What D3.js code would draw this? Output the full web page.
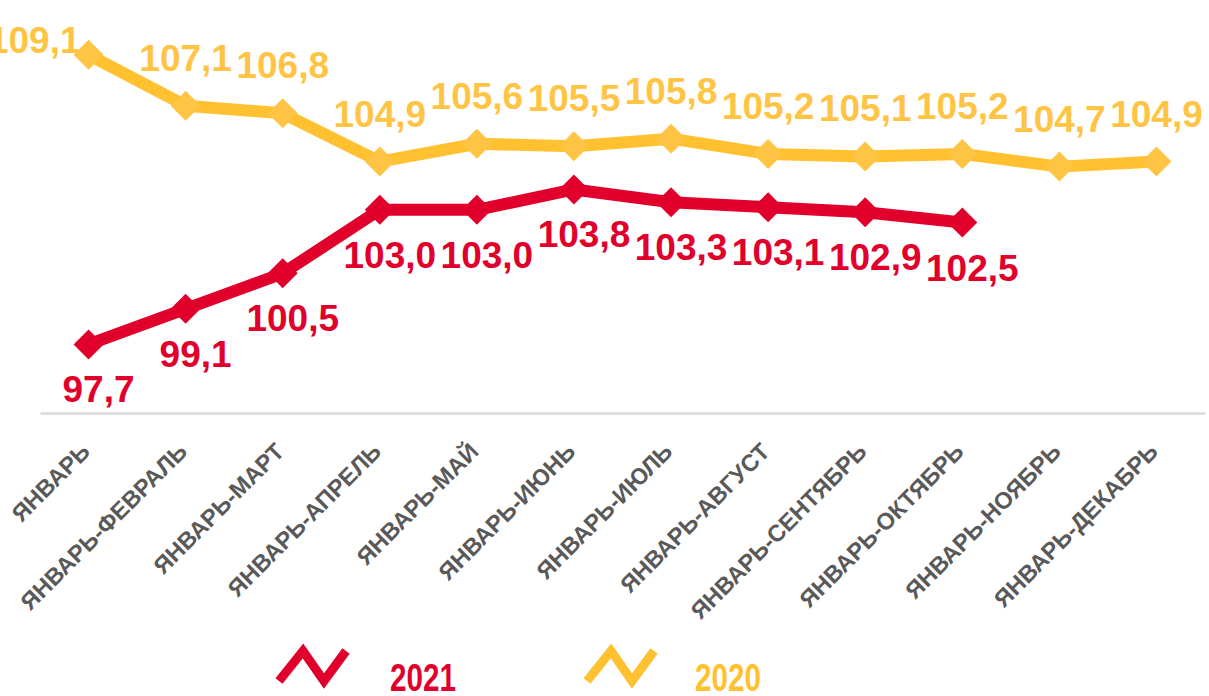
<!DOCTYPE html>
<html lang="ru">
<head>
    <meta charset="UTF-8">
    <title>Январь - месяц, накопительно</title>
    <script src="https://d3js.org/d3.v7.min.js"></script>
    <style>
        body { margin: 0; background: #fff; }
        svg text { font-family: "Liberation Sans", Arial, sans-serif; font-weight: bold; }
    </style>
</head>
<body>
<div id="chart"></div>
<script>
    // categories (cumulative periods)
    var months = ["ЯНВАРЬ", "ЯНВАРЬ-ФЕВРАЛЬ", "ЯНВАРЬ-МАРТ", "ЯНВАРЬ-АПРЕЛЬ", "ЯНВАРЬ-МАЙ",
        "ЯНВАРЬ-ИЮНЬ", "ЯНВАРЬ-ИЮЛЬ", "ЯНВАРЬ-АВГУСТ", "ЯНВАРЬ-СЕНТЯБРЬ", "ЯНВАРЬ-ОКТЯБРЬ",
        "ЯНВАРЬ-НОЯБРЬ", "ЯНВАРЬ-ДЕКАБРЬ"];

    // series values
    var values2021 = [97.7, 99.1, 100.5, 103.0, 103.0, 103.8, 103.3, 103.1, 102.9, 102.5];
    var values2020 = [109.1, 107.1, 106.8, 104.9, 105.6, 105.5, 105.8, 105.2, 105.1, 105.2, 104.7, 104.9];

    var seriesNames = ["2021", "2020"];

    var red = "#E1002B";
    var yellow = "#FFC12F";
    var yellowMarker = "#FFC444";

    var width = 1209, height = 696;

    var svg = d3.select("#chart")
        .append("svg")
        .attr("width", width)
        .attr("height", height);

    var x = d3.scaleBand()
        .domain(months)
        .range([40, 1205]);

    var y = d3.scaleLinear()
        .domain([95, 110])
        .range([413, 32]);

    function cx(i) { return x(months[i]) + x.bandwidth() / 2; }

    // x axis
    var xAxis = svg.append("g")
        .attr("transform", "translate(0," + y(95) + ")")
        .call(d3.axisBottom(x).tickSize(0).tickPadding(0));

    xAxis.select(".domain")
        .attr("stroke", "#D9D9D9")
        .attr("stroke-width", 2.5);

    xAxis.selectAll(".tick text")
        .attr("fill", "#595959")
        .style("font-size", "23.5px")
        .attr("text-anchor", "end")
        .attr("dy", null)
        .attr("transform", "translate(3,40) rotate(-45)");

    var diamond = "M0,-15L15,0L0,15L-15,0Z";

    var line = d3.line()
        .x(function(d, i) { return cx(i); })
        .y(function(d) { return y(d); });

    function drawSeries(data, color, markerColor) {
        var g = svg.append("g");
        g.append("path")
            .datum(data)
            .attr("d", line)
            .attr("fill", "none")
            .attr("stroke", color)
            .attr("stroke-width", 12)
            .attr("stroke-linejoin", "round");

        g.selectAll(".marker")
            .data(data)
            .enter()
            .append("path")
            .attr("class", "marker")
            .attr("d", diamond)
            .attr("transform", function(d, i) { return "translate(" + cx(i) + "," + y(d) + ")"; })
            .attr("fill", markerColor);
        return g;
    }

    drawSeries(values2020, yellow, yellowMarker);
    drawSeries(values2021, red, red);

    function fmt(v) { return v.toFixed(1).replace(".", ","); }

    // 2020 labels above points (first one sits to the left)
    svg.append("g").selectAll("text")
        .data(values2020)
        .enter()
        .append("text")
        .attr("x", function(d, i) { return i === 0 ? cx(i) - 8 : cx(i); })
        .attr("y", function(d, i) { return i === 0 ? y(d) - 2 : y(d) - 35; })
        .attr("text-anchor", function(d, i) { return i === 0 ? "end" : "middle"; })
        .attr("fill", yellowMarker)
        .style("font-size", "37px")
        .text(fmt);

    // 2021 labels below points
    svg.append("g").selectAll("text")
        .data(values2021)
        .enter()
        .append("text")
        .attr("x", function(d, i) { return cx(i) + 10; })
        .attr("y", function(d) { return y(d) + 58; })
        .attr("text-anchor", "middle")
        .attr("fill", red)
        .style("font-size", "37px")
        .text(fmt);

    // legend
    var legendColors = [red, yellow];
    var legendX = [279, 587];
    var textX = [111, 108];
    var zig = [[0, 30], [24, 0], [45, 30], [67, 0]];

    seriesNames.forEach(function(name, i) {
        var lg = svg.append("g")
            .attr("transform", "translate(" + legendX[i] + ",651)");
        lg.append("path")
            .attr("d", d3.line()(zig))
            .attr("fill", "none")
            .attr("stroke", legendColors[i])
            .attr("stroke-width", 9);
        lg.append("text")
            .attr("transform", "translate(" + textX[i] + ",40) scale(0.76,1)")
            .attr("fill", legendColors[i])
            .style("font-size", "39px")
            .text(name);
    });
</script>
</body>
</html>
